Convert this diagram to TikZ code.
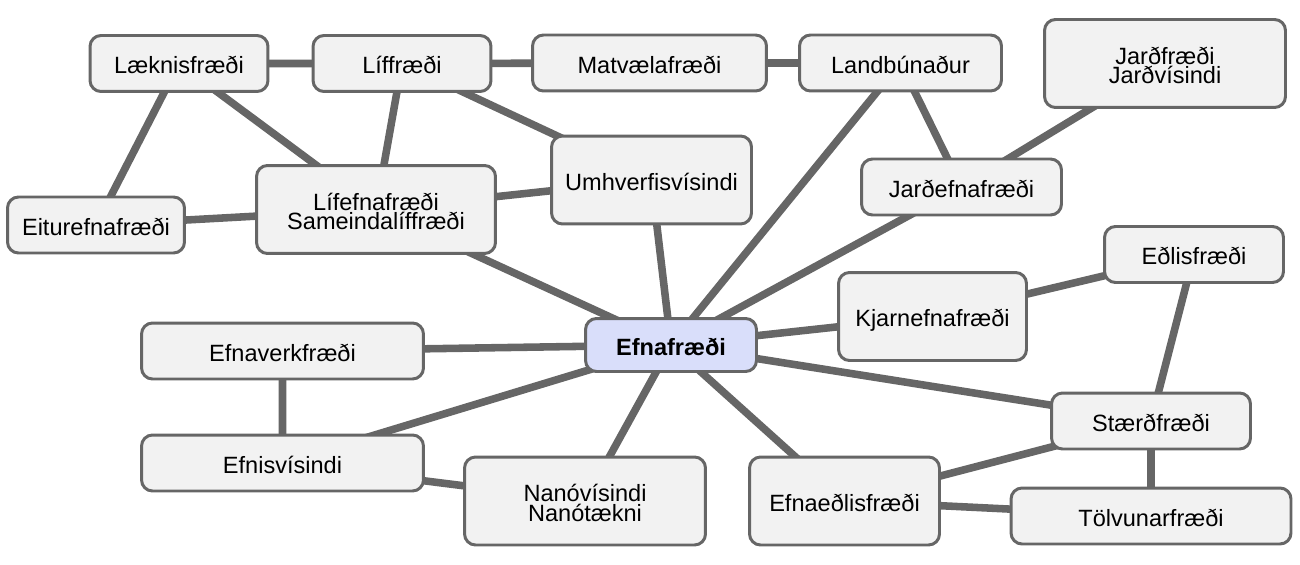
\documentclass[tikz,border=0pt]{standalone}
\usepackage{fontspec}
\setmainfont{Liberation Sans}
\usepackage{tikz}
\usetikzlibrary{backgrounds}
\definecolor{rand}{HTML}{666666}
\definecolor{feldf}{HTML}{F2F2F2}
\definecolor{mittef}{HTML}{D9DEFA}
\tikzset{
  feld/.style={draw=rand,fill=feldf,line width=1.7pt,rounded corners=0.22cm,
    minimum height=1.12cm,inner sep=2pt,align=center,
    font=\fontsize{13.4pt}{11pt}\selectfont,text height=1.25em,text depth=0.1em},
  hoch/.style={minimum height=1.76cm},
  zwei/.style={hoch,text height=2.4em},
  mitte/.style={fill=mittef,font=\fontsize{13.4pt}{11pt}\selectfont\bfseries,minimum height=1.06cm},
  kante/.style={rand,line width=4.3pt},
}
\begin{document}
\begin{tikzpicture}[x=0.02cm,y=-0.02cm]
  \useasboundingbox (0,0) rectangle (1300,564);
  % Felder
  \node[feld,minimum width=3.56cm] (lk) at (179,63.5) {Læknisfræði};
  \node[feld,minimum width=3.56cm] (lf) at (402,63.5) {Líffræði};
  \node[feld,minimum width=4.68cm] (mv) at (649.5,63) {Matvælafræði};
  \node[feld,minimum width=4.04cm] (lb) at (900.5,63) {Landbúnaður};
  \node[feld,zwei,minimum width=4.82cm] (jf) at (1165,63.5) {Jarðfræði\\Jarðvísindi};
  \node[feld,hoch,minimum width=4.00cm] (uh) at (651.5,180) {Umhverfisvísindi};
  \node[feld,minimum width=4.00cm] (je) at (961.5,187) {Jarðefnafræði};
  \node[feld,zwei,minimum width=4.78cm] (lef) at (376,209.5) {Lífefnafræði\\Sameindalíffræði};
  \node[feld,minimum width=3.54cm] (et) at (96,225) {Eiturefnafræði};
  \node[feld,minimum width=3.58cm] (ed) at (1194,254.5) {Eðlisfræði};
  \node[feld,hoch,minimum width=3.76cm] (kj) at (932.5,316.5) {Kjarnefnafræði};
  \node[feld,mitte,minimum width=3.42cm] (ef) at (671,345) {Efnafræði};
  \node[feld,minimum width=5.64cm] (ev) at (282.5,351) {Efnaverkfræði};
  \node[feld,minimum width=3.98cm] (st) at (1151,421) {Stærðfræði};
  \node[feld,minimum width=5.64cm] (es) at (282.5,463) {Efnisvísindi};
  \node[feld,zwei,minimum width=4.82cm] (nn) at (585,501) {Nanóvísindi\\Nanótækni};
  \node[feld,hoch,minimum width=3.80cm] (eel) at (844.5,501) {Efnaeðlisfræði};
  \node[feld,minimum width=5.60cm] (tv) at (1151,516) {Tölvunarfræði};
  % Kanten hinter den Feldern
  \begin{scope}[on background layer]
    \draw[kante] (lk.center) -- (lf.center) (lf.center) -- (mv.center) (mv.center) -- (lb.center);
    \draw[kante] (lk.center) -- (et.center) (lk.center) -- (lef.center) (lf.center) -- (lef.center);
    \draw[kante] (lf.center) -- (uh.center) (et.center) -- (lef.center) (lef.center) -- (uh.center);
    \draw[kante] (lef.center) -- (ef.center) (uh.center) -- (ef.center) (lb.center) -- (ef.center);
    \draw[kante] (lb.center) -- (je.center) (jf.center) -- (je.center) (je.center) -- (ef.center);
    \draw[kante] (kj.center) -- (ef.center) (kj.center) -- (ed.center) (ed.center) -- (st.center);
    \draw[kante] (ef.center) -- (st.center) (ef.center) -- (eel.center) (ef.center) -- (nn.center);
    \draw[kante] (ef.center) -- (ev.center) (ef.center) -- (es.center) (ev.center) -- (es.center);
    \draw[kante] (es.center) -- (nn.center) (st.center) -- (eel.center) (st.center) -- (tv.center);
    \draw[kante] (eel.center) -- (tv.center);
  \end{scope}
\end{tikzpicture}
\end{document}
